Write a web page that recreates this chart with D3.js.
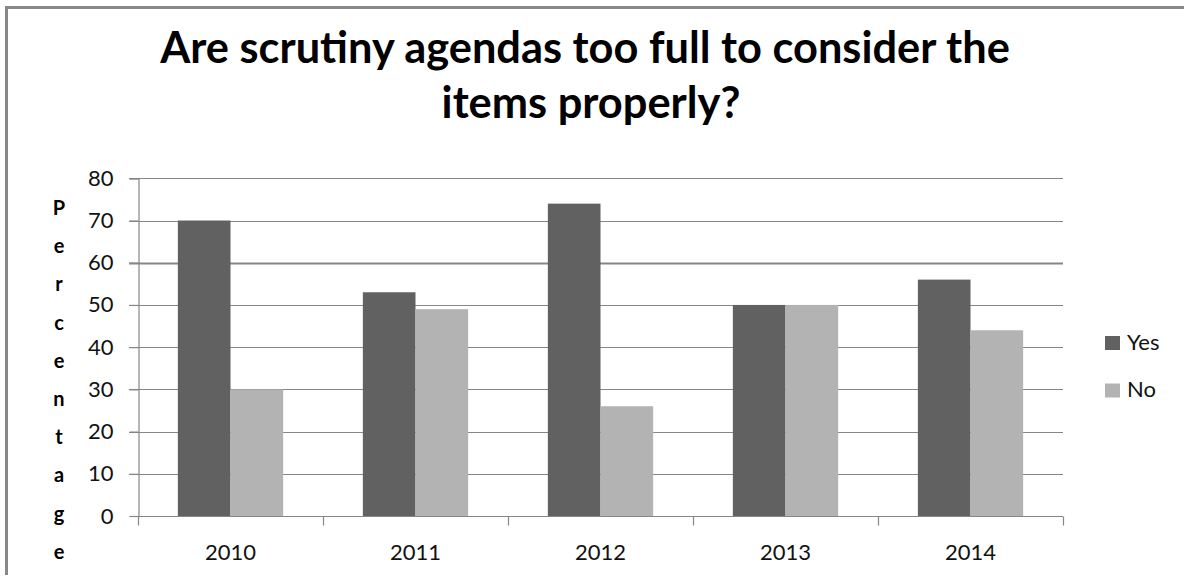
<!DOCTYPE html>
<html>
<head>
<meta charset="utf-8">
<script src="https://cdn.jsdelivr.net/npm/d3@7"></script>
<style>
  html, body { margin: 0; padding: 0; background: #fff; }
  svg { display: block; }
  text { font-family: Lato, "Open Sans", "Liberation Sans", sans-serif; }
</style>
</head>
<body>
<svg id="chart" width="1184" height="578"></svg>
<script>
// Survey results by year
const years = ["2010", "2011", "2012", "2013", "2014"];
const seriesNames = ["Yes", "No"];
const yesValues = [70, 53, 74, 50, 56];
const noValues = [30, 49, 26, 50, 44];
const yTicks = [0, 10, 20, 30, 40, 50, 60, 70, 80];
const titleLines = ["Are scrutiny agendas too full to consider the", "items properly?"];
const yTitle = "Percentage";

const seriesColors = { Yes: "#616161", No: "#b3b3b3" };
const gridColor = "#868686";

const svg = d3.select("#chart");
const W = 1184, H = 578;

// Chart-area frame (top and left edges are inside the view)
svg.append("path")
  .attr("d", "M6.5,575 V7.5 H1184")
  .attr("fill", "none")
  .attr("stroke", "#888")
  .attr("stroke-width", 3);

// Plot area
const plot = { left: 138, right: 1063, top: 178.3, bottom: 516 };

const x0 = d3.scaleBand().domain(years).range([plot.left, plot.right]).paddingInner(0).paddingOuter(0);
const x1 = d3.scaleBand().domain(seriesNames).range([0, x0.bandwidth()]).paddingInner(0).paddingOuter(0.757);
const y = d3.scaleLinear().domain([0, 80]).range([plot.bottom, plot.top]);

// Gridlines with short ticks to the left of the axis
const grid = svg.append("g");
grid.selectAll("line")
  .data(yTicks.filter(d => d > 0))
  .join("line")
  .attr("x1", plot.left - 9)
  .attr("x2", plot.right)
  .attr("y1", d => Math.round(y(d)) + 0.5)
  .attr("y2", d => Math.round(y(d)) + 0.5)
  .attr("stroke", gridColor)
  .attr("stroke-width", d => d === 60 ? 2.2 : 1.2);

// Bars
const rows = years.map((yr, i) => ({ year: yr, Yes: yesValues[i], No: noValues[i] }));
const groups = svg.append("g").selectAll("g")
  .data(rows)
  .join("g")
  .attr("transform", d => `translate(${x0(d.year)},0)`);
groups.selectAll("rect")
  .data(d => seriesNames.map(k => ({ key: k, value: d[k] })))
  .join("rect")
  .attr("x", d => x1(d.key))
  .attr("width", x1.bandwidth())
  .attr("y", d => y(d.value))
  .attr("height", d => y(0) - y(d.value))
  .attr("fill", d => seriesColors[d.key]);

// Y axis
const yAxis = svg.append("g")
  .attr("transform", `translate(${plot.left + 0.5},0)`)
  .call(d3.axisLeft(y).tickValues(yTicks).tickSize(9).tickPadding(16));
yAxis.select(".domain").attr("stroke", gridColor).attr("stroke-width", 1.2);
yAxis.selectAll(".tick line").attr("stroke", gridColor).attr("stroke-width", 1.2);
yAxis.selectAll(".tick text")
  .attr("font-size", 22)
  .attr("fill", "#111")
  .attr("font-family", "Lato, 'Open Sans', sans-serif");

// X axis with ticks at category boundaries
const xAxisG = svg.append("g").attr("transform", `translate(0,${plot.bottom + 0.5})`);
xAxisG.append("line")
  .attr("x1", plot.left).attr("x2", plot.right)
  .attr("stroke", gridColor).attr("stroke-width", 1.2);
const boundaries = years.map(d => x0(d)).concat([x0(years[years.length - 1]) + x0.bandwidth()]);
xAxisG.selectAll("line.tick")
  .data(boundaries)
  .join("line")
  .attr("class", "tick")
  .attr("x1", d => Math.round(d) + 0.5).attr("x2", d => Math.round(d) + 0.5)
  .attr("y1", 0).attr("y2", 9)
  .attr("stroke", gridColor).attr("stroke-width", 1.2);
xAxisG.selectAll("text")
  .data(years)
  .join("text")
  .attr("x", d => x0(d) + x0.bandwidth() / 2)
  .attr("y", 43)
  .attr("text-anchor", "middle")
  .attr("font-size", 22)
  .attr("fill", "#111")
  .text(d => d);

// Title, fitted to its line width
const title = svg.append("g");
const titleCenters = [585, 591];
const titleBaselines = [63, 118];
const t1 = title.append("text")
  .attr("font-weight", "bold")
  .attr("font-size", 34)
  .text(titleLines[0]);
const fs = 34 * 850 / t1.node().getComputedTextLength();
t1.remove();
title.selectAll("text")
  .data(titleLines)
  .join("text")
  .attr("x", (d, i) => titleCenters[i])
  .attr("y", (d, i) => titleBaselines[i])
  .attr("text-anchor", "middle")
  .attr("font-weight", "bold")
  .attr("font-size", fs)
  .attr("fill", "#000")
  .text(d => d);

// Vertical, stacked y-axis title
svg.append("g").selectAll("text")
  .data(yTitle.split(""))
  .join("text")
  .attr("x", 59)
  .attr("y", (d, i) => 215 + i * 38.2)
  .attr("text-anchor", "middle")
  .attr("font-weight", "bold")
  .attr("font-size", 20)
  .attr("fill", "#000")
  .text(d => d);

// Legend
const legend = svg.append("g").selectAll("g")
  .data(seriesNames)
  .join("g")
  .attr("transform", (d, i) => `translate(1105,${336 + i * 47.5})`);
legend.append("rect")
  .attr("width", 15).attr("height", 14)
  .attr("fill", d => seriesColors[d]);
legend.append("text")
  .attr("x", 22).attr("y", 13.5)
  .attr("font-size", 22)
  .attr("fill", "#111")
  .text(d => d);
</script>
</body>
</html>
